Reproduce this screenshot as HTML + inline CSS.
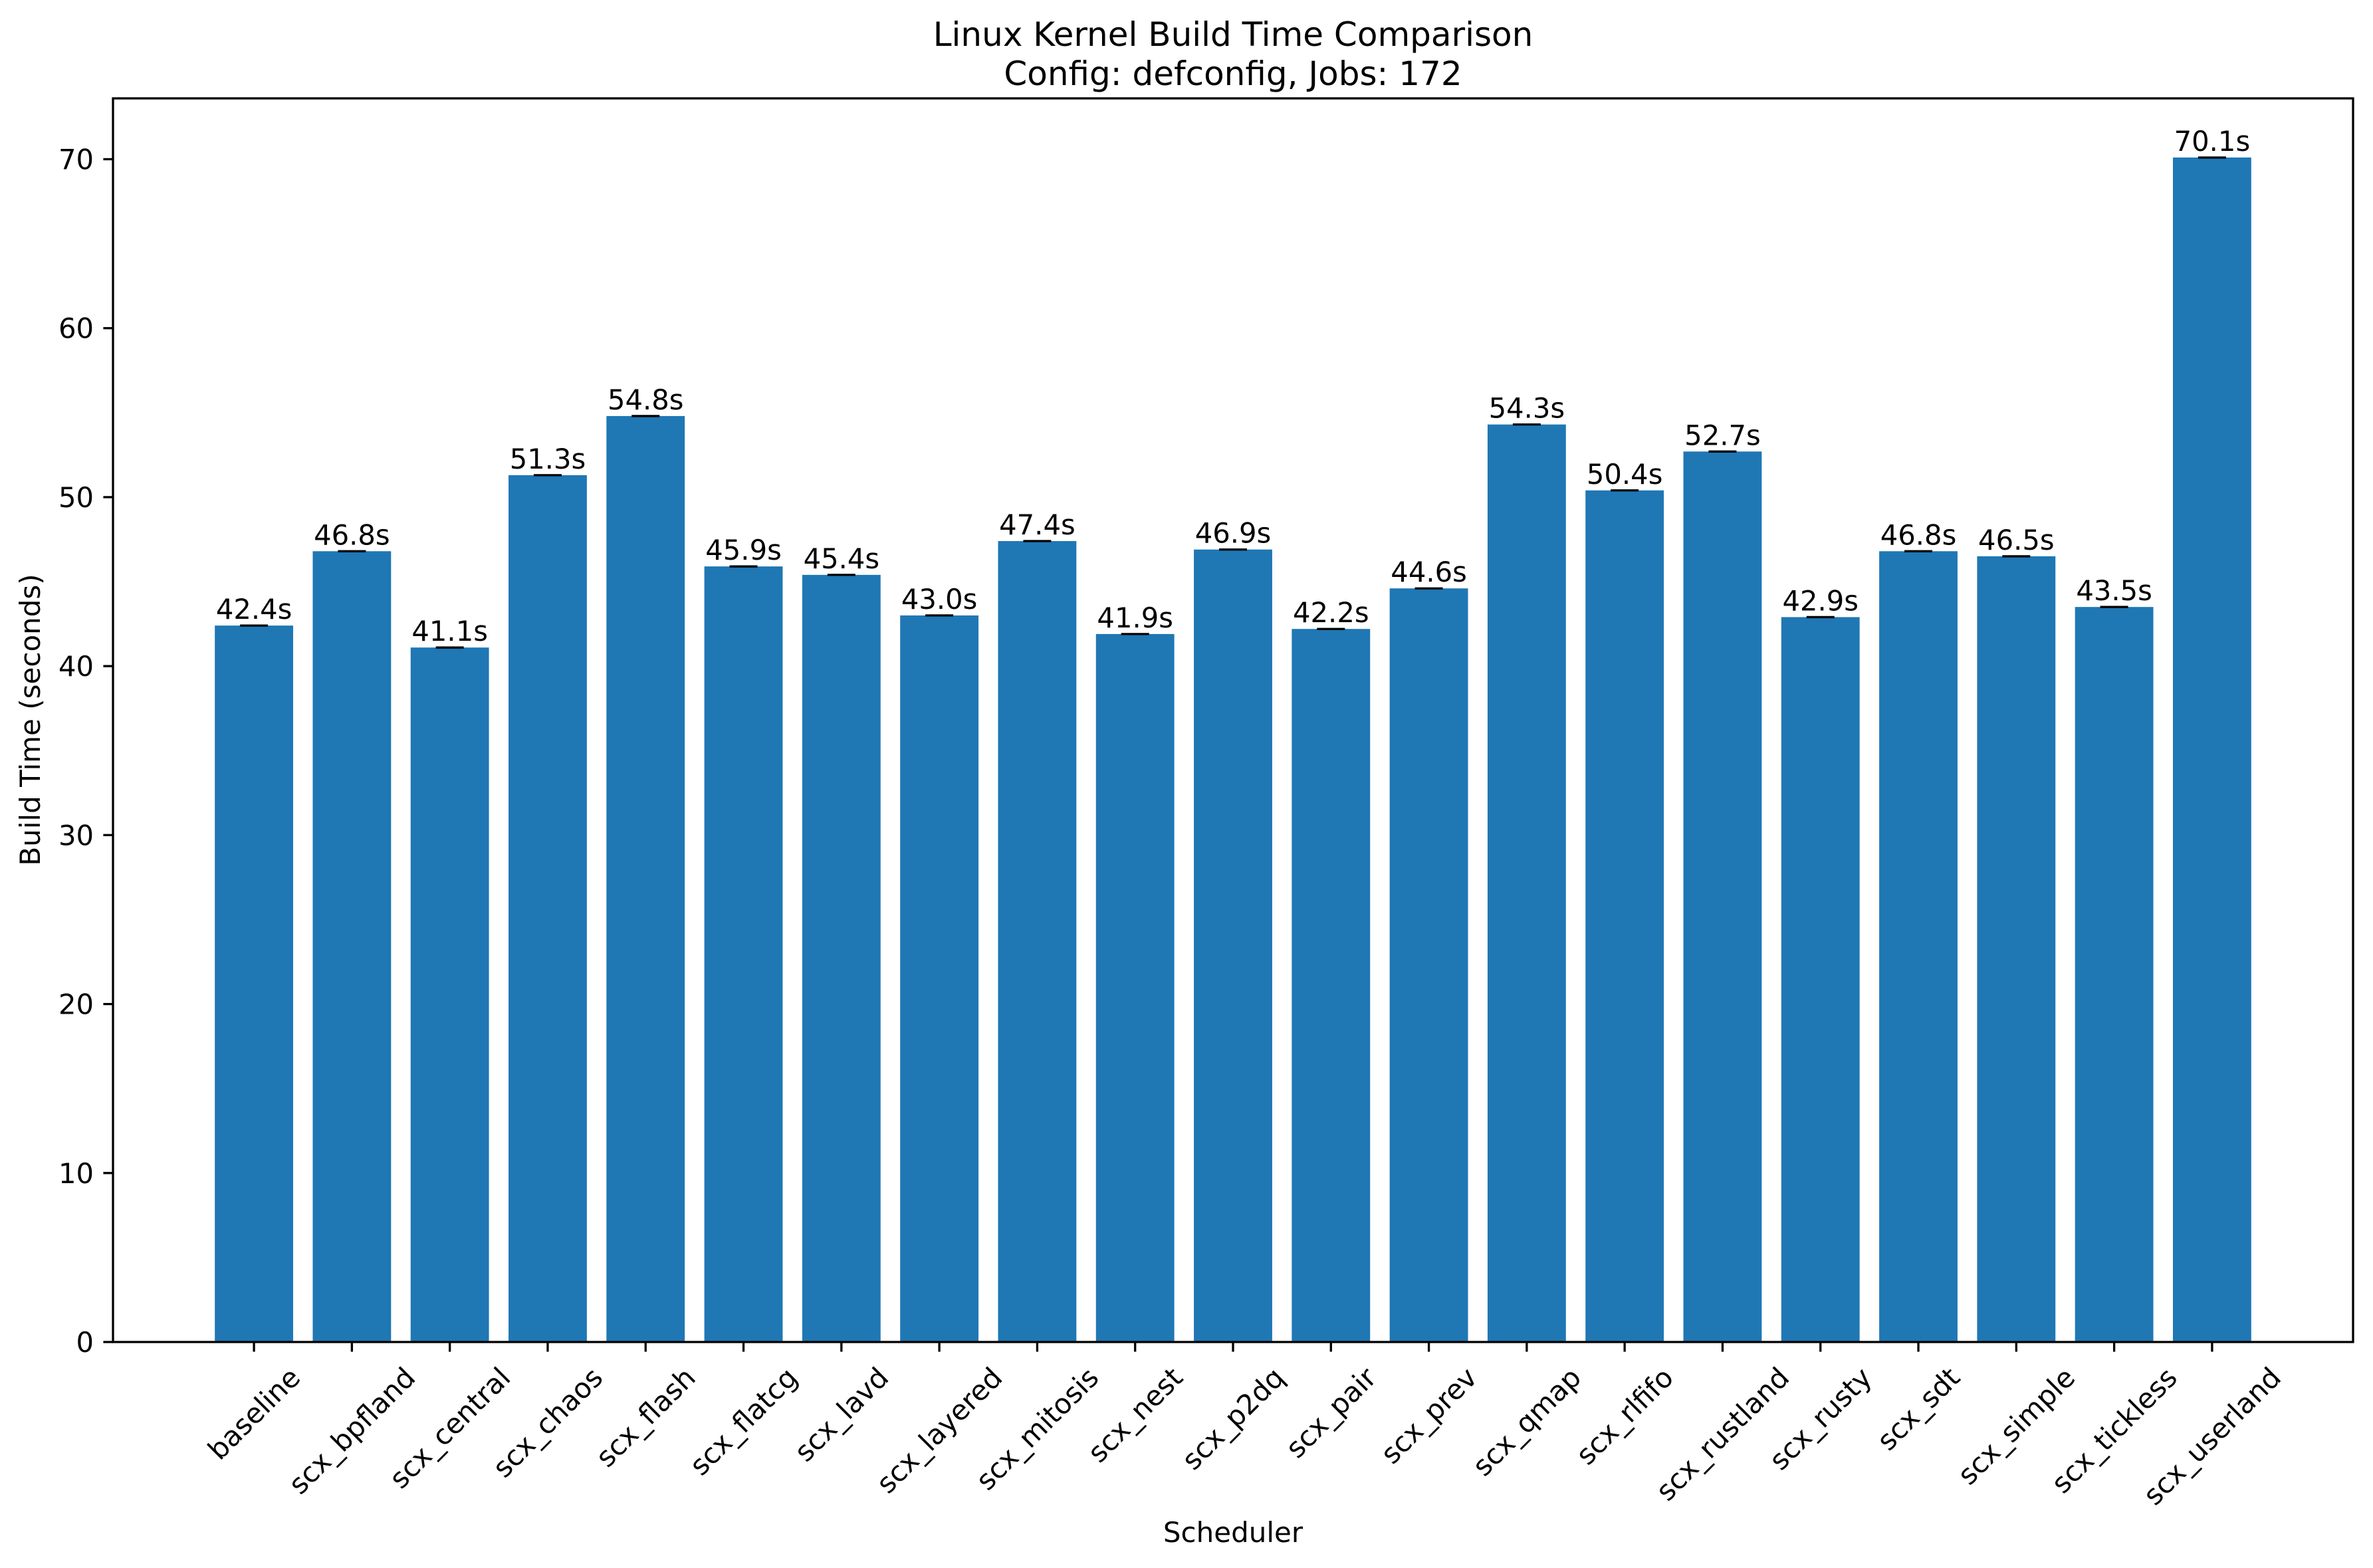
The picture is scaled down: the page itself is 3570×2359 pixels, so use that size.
<!DOCTYPE html>
<html><head><meta charset="utf-8">
<style>
html,body{margin:0;padding:0;background:#fff;}
svg{display:block;}
text{font-family:"DejaVu Sans","Liberation Sans",sans-serif;fill:#000;}
</style></head>
<body>
<svg id="chart" width="3570" height="2359" viewBox="0 0 3570 2359" xmlns="http://www.w3.org/2000/svg">
<rect x="0" y="0" width="3570" height="2359" fill="#fff"/>
<text x="1855" y="69" font-size="50" text-anchor="middle">Linux Kernel Build Time Comparison</text>
<text x="1855" y="128" font-size="50" text-anchor="middle">Config: defconfig, Jobs: 172</text>
<g id="plot"></g>
<g id="yaxis"></g>
<g id="xaxis"></g>
<rect x="170" y="148" width="3370" height="1871" fill="none" stroke="#000" stroke-width="3.3"/>
<text transform="translate(60,1083) rotate(-90)" font-size="42" text-anchor="middle">Build Time (seconds)</text>
<text x="1855" y="2320" font-size="42" text-anchor="middle">Scheduler</text>
</svg>
<script>
const categories = ["baseline","scx_bpfland","scx_central","scx_chaos","scx_flash","scx_flatcg","scx_lavd","scx_layered","scx_mitosis","scx_nest","scx_p2dq","scx_pair","scx_prev","scx_qmap","scx_rlfifo","scx_rustland","scx_rusty","scx_sdt","scx_simple","scx_tickless","scx_userland"];
const values = [42.4,46.8,41.1,51.3,54.8,45.9,45.4,43.0,47.4,41.9,46.9,42.2,44.6,54.3,50.4,52.7,42.9,46.8,46.5,43.5,70.1];
const valueLabels = ["42.4s","46.8s","41.1s","51.3s","54.8s","45.9s","45.4s","43.0s","47.4s","41.9s","46.9s","42.2s","44.6s","54.3s","50.4s","52.7s","42.9s","46.8s","46.5s","43.5s","70.1s"];
const yTicks = [0,10,20,30,40,50,60,70];

const NS = "http://www.w3.org/2000/svg";
const L = 170, R = 3540, T = 148, B = 2019;
const xMin = -1.44, xMax = categories.length - 1 + 1.44;
const yMin = 0, yMax = 73.6;
function xs(v){ return L + (v - xMin) / (xMax - xMin) * (R - L); }
function ys(v){ return B - (v - yMin) / (yMax - yMin) * (B - T); }
function mk(tag, attrs, parent){
  const e = document.createElementNS(NS, tag);
  for (const k in attrs) e.setAttribute(k, attrs[k]);
  parent.appendChild(e);
  return e;
}
const plot = document.getElementById('plot');
const yaxis = document.getElementById('yaxis');
const xaxis = document.getElementById('xaxis');
const unit = xs(1) - xs(0);
const bw = 0.8 * unit;

categories.forEach((c, i) => {
  const cx = xs(i);
  const top = ys(values[i]);
  const bar = mk('rect', {x: cx - bw/2, y: top, width: bw, height: B - top, fill: '#1f77b4'}, plot);
  
  
  const cap = mk('line', {x1: cx - 21, x2: cx + 21, y1: top, y2: top, stroke: '#000', 'stroke-width': 3.3}, plot);
  
  
  const vl = mk('text', {x: cx, y: top - 10, 'font-size': 41.7, 'text-anchor': 'middle'}, plot);
  vl.textContent = valueLabels[i];
  
  
  const tk = mk('line', {x1: cx, x2: cx, y1: B, y2: B + 14.6, stroke: '#000', 'stroke-width': 3.3}, xaxis);
  
  
  const lab = mk('text', {x: 0, y: 0, 'font-size': 41.7, 'text-anchor': 'middle', 'dominant-baseline': 'central'}, xaxis);
  lab.textContent = c;
  
  
  const len = lab.getComputedTextLength();
  const h = 48;
  const side = (len + h) * Math.SQRT1_2;
  const cy = B + 29 + side / 2;
  lab.setAttribute('transform', 'translate(' + cx + ',' + cy + ') rotate(-45)');
});

yTicks.forEach(t => {
  const y = ys(t);
  const tk = mk('line', {x1: L - 14.6, x2: L, y1: y, y2: y, stroke: '#000', 'stroke-width': 3.3}, yaxis);
  
  
  const lab = mk('text', {x: L - 29, y: y + 15, 'font-size': 41.7, 'text-anchor': 'end'}, yaxis);
  lab.textContent = String(t);
  
  
});
</script>
</body></html>
